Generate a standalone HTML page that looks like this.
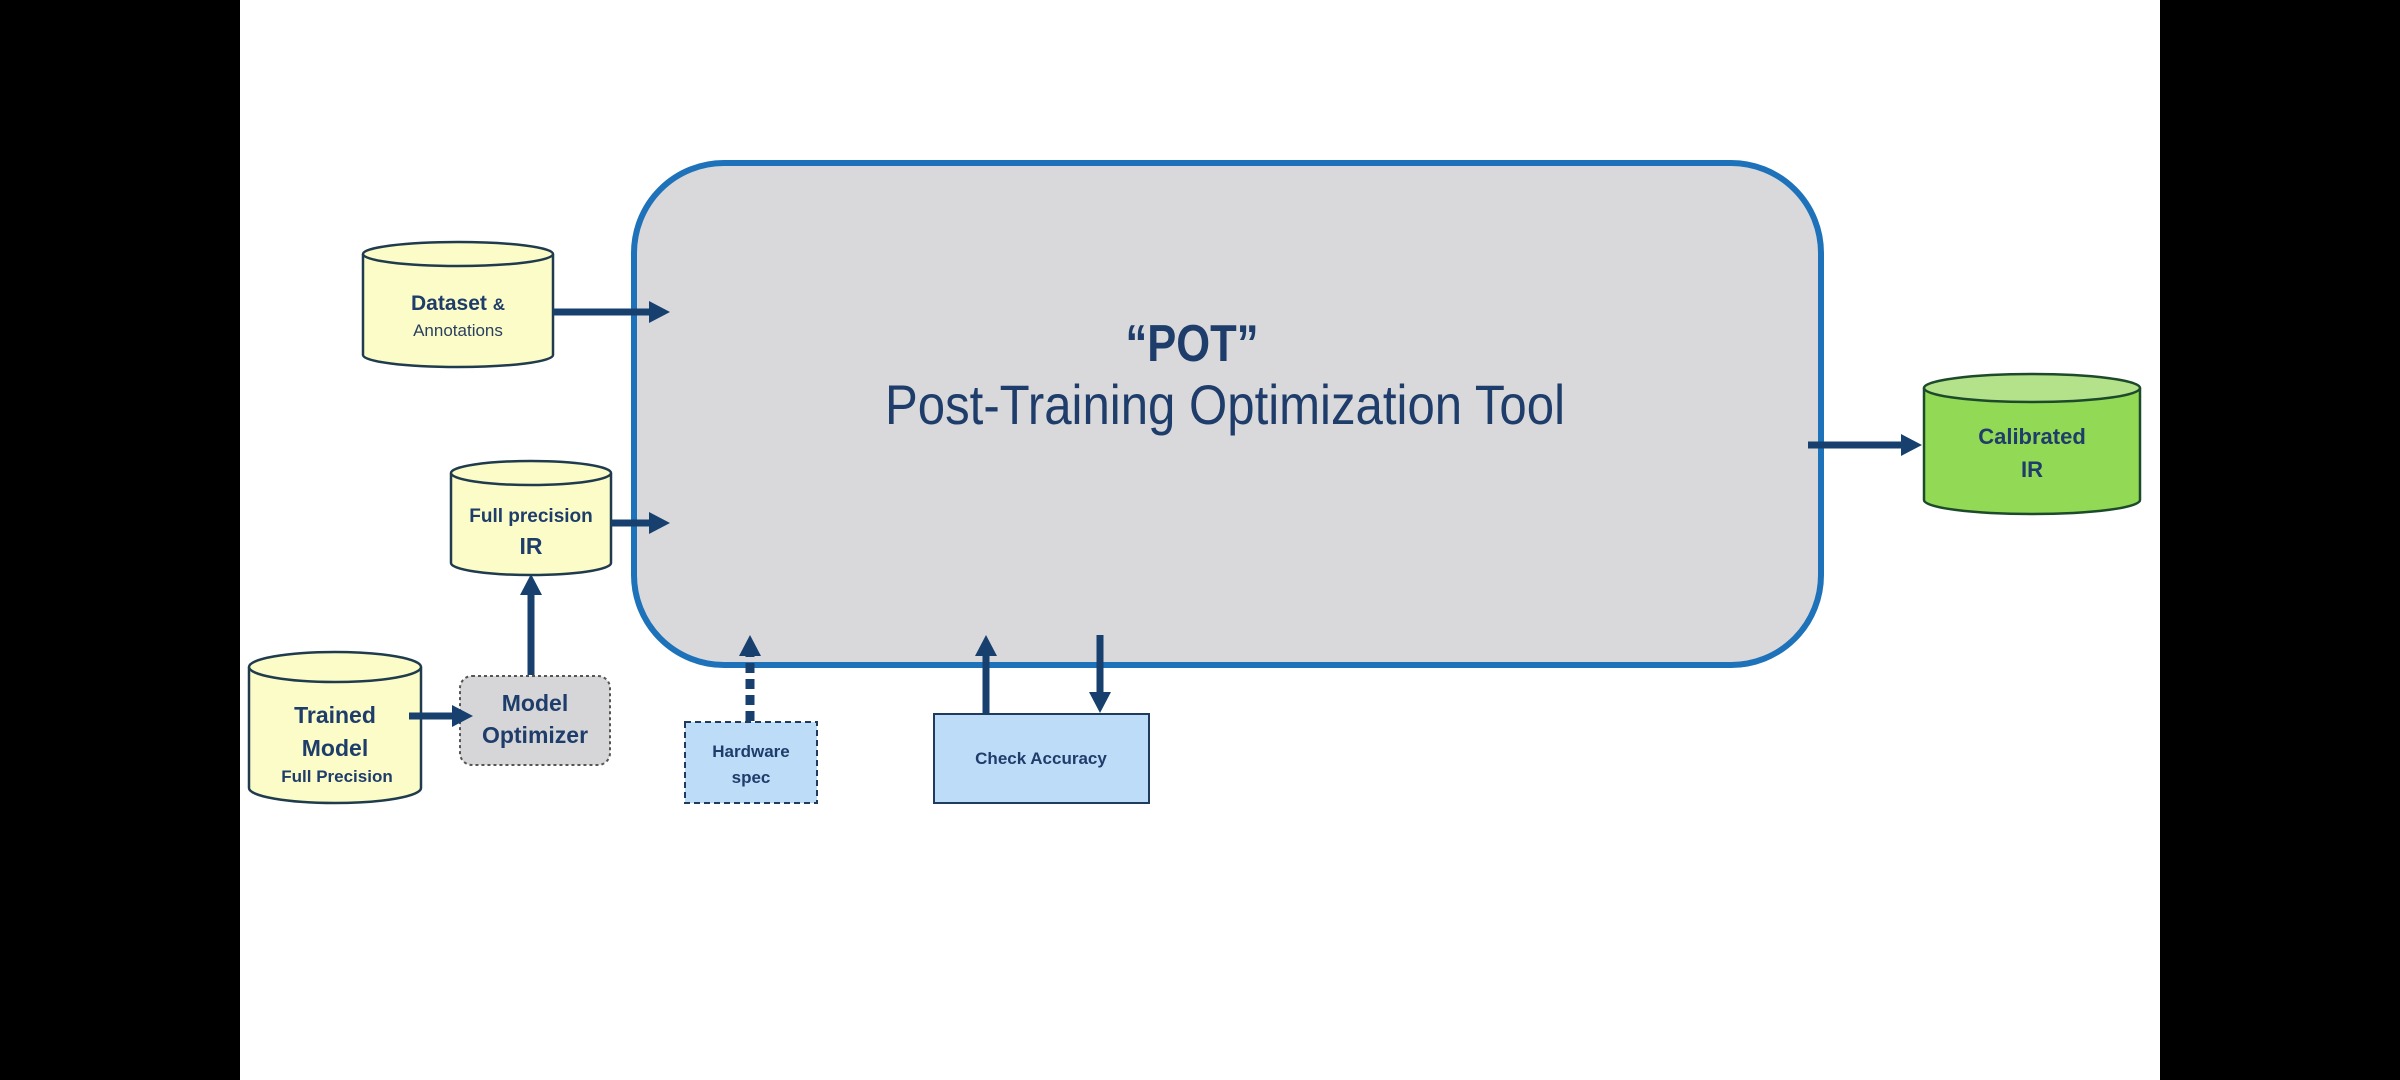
<!DOCTYPE html>
<html><head><meta charset="utf-8"><style>
html,body{margin:0;padding:0;background:#000;}
svg{display:block;}
text{font-family:"Liberation Sans",sans-serif;fill:#1f3d6b;}
</style></head><body>
<svg width="2400" height="1080" viewBox="0 0 2400 1080" xmlns="http://www.w3.org/2000/svg">
<rect x="0" y="0" width="2400" height="1080" fill="#000"/>
<rect x="240" y="0" width="1920" height="1080" fill="#fff"/>

<!-- main box -->
<rect x="634" y="163" width="1187" height="502" rx="90" ry="90" fill="#d9d9db" stroke="#1e72b9" stroke-width="6"/>
<text x="1192" y="361" font-size="52" font-weight="bold" text-anchor="middle" textLength="133" lengthAdjust="spacingAndGlyphs">“POT”</text>
<text x="885" y="424" font-size="56" textLength="680" lengthAdjust="spacingAndGlyphs">Post-Training Optimization Tool</text>

<!-- Dataset cylinder -->
<g stroke="#1f3b4d" stroke-width="2.5" fill="#fbfcc8">
<path d="M363,254 L363,355 A95,12 0 0 0 553,355 L553,254"/>
<ellipse cx="458" cy="254" rx="95" ry="12"/>
</g>
<text x="458" y="310" font-size="21" font-weight="bold" text-anchor="middle">Dataset <tspan font-size="17">&amp;</tspan></text>
<text x="458" y="336" font-size="17" text-anchor="middle" style="fill:#2a4060">Annotations</text>

<!-- Full precision IR -->
<g stroke="#1f3b4d" stroke-width="2.5" fill="#fbfcc8">
<path d="M451,473 L451,563 A80,12 0 0 0 611,563 L611,473"/>
<ellipse cx="531" cy="473" rx="80" ry="12"/>
</g>
<text x="531" y="522" font-size="19" font-weight="bold" text-anchor="middle">Full precision</text>
<text x="531" y="554" font-size="23" font-weight="bold" text-anchor="middle">IR</text>

<!-- Trained Model -->
<g stroke="#1f3b4d" stroke-width="2.5" fill="#fbfcc8">
<path d="M249,667 L249,788 A86,15 0 0 0 421,788 L421,667"/>
<ellipse cx="335" cy="667" rx="86" ry="15"/>
</g>
<text x="335" y="723" font-size="23" font-weight="bold" text-anchor="middle">Trained</text>
<text x="335" y="756" font-size="23" font-weight="bold" text-anchor="middle">Model</text>
<text x="337" y="782" font-size="17" font-weight="bold" text-anchor="middle">Full Precision</text>

<!-- Model Optimizer -->
<rect x="460" y="676" width="150" height="89" rx="12" ry="12" fill="#d6d6d8" stroke="#555" stroke-width="2" stroke-dasharray="3,3"/>
<text x="535" y="711" font-size="23" font-weight="bold" text-anchor="middle">Model</text>
<text x="535" y="743" font-size="23" font-weight="bold" text-anchor="middle">Optimizer</text>

<!-- Hardware spec -->
<rect x="685" y="722" width="132" height="81" fill="#bcdcf7" stroke="#1f3b5d" stroke-width="2" stroke-dasharray="6,4"/>
<text x="751" y="757" font-size="17" font-weight="bold" text-anchor="middle">Hardware</text>
<text x="751" y="783" font-size="17" font-weight="bold" text-anchor="middle">spec</text>
<line x1="750" y1="721" x2="750" y2="656" stroke="#17406e" stroke-width="9" stroke-dasharray="10,6"/>

<!-- Check Accuracy -->
<rect x="934" y="714" width="215" height="89" fill="#bcdcf7" stroke="#1f3b5d" stroke-width="2"/>
<text x="1041" y="764" font-size="17" font-weight="bold" text-anchor="middle">Check Accuracy</text>

<!-- Calibrated IR -->
<g stroke="#1d4a2a" stroke-width="2.5" fill="#92d955">
<path d="M1924,388 L1924,500 A108,14 0 0 0 2140,500 L2140,388"/>
<ellipse cx="2032" cy="388" rx="108" ry="14" fill="#b4e28a"/>
</g>
<text x="2032" y="444" font-size="22" font-weight="bold" text-anchor="middle">Calibrated</text>
<text x="2032" y="477" font-size="22" font-weight="bold" text-anchor="middle">IR</text>

<g fill="#17406e" stroke="none">
<rect x="553" y="308.5" width="98" height="7"/><path d="M649,301 L670,312 L649,323 Z"/>
<rect x="611" y="519.5" width="40" height="7"/><path d="M649,512 L670,523 L649,534 Z"/>
<rect x="409" y="712.5" width="45" height="7"/><path d="M452,705 L473,716 L452,727 Z"/>
<rect x="527.5" y="593" width="7" height="82"/><path d="M520,595 L531,574 L542,595 Z"/>
<path d="M739,656 L750,635 L761,656 Z"/>
<rect x="982.5" y="654" width="7" height="59"/><path d="M975,656 L986,635 L997,656 Z"/>
<rect x="1096.5" y="635" width="7" height="59"/><path d="M1089,692 L1100,713 L1111,692 Z"/>
<rect x="1808" y="441.5" width="95" height="7"/><path d="M1901,434 L1922,445 L1901,456 Z"/>
</g>
</svg>
</body></html>
